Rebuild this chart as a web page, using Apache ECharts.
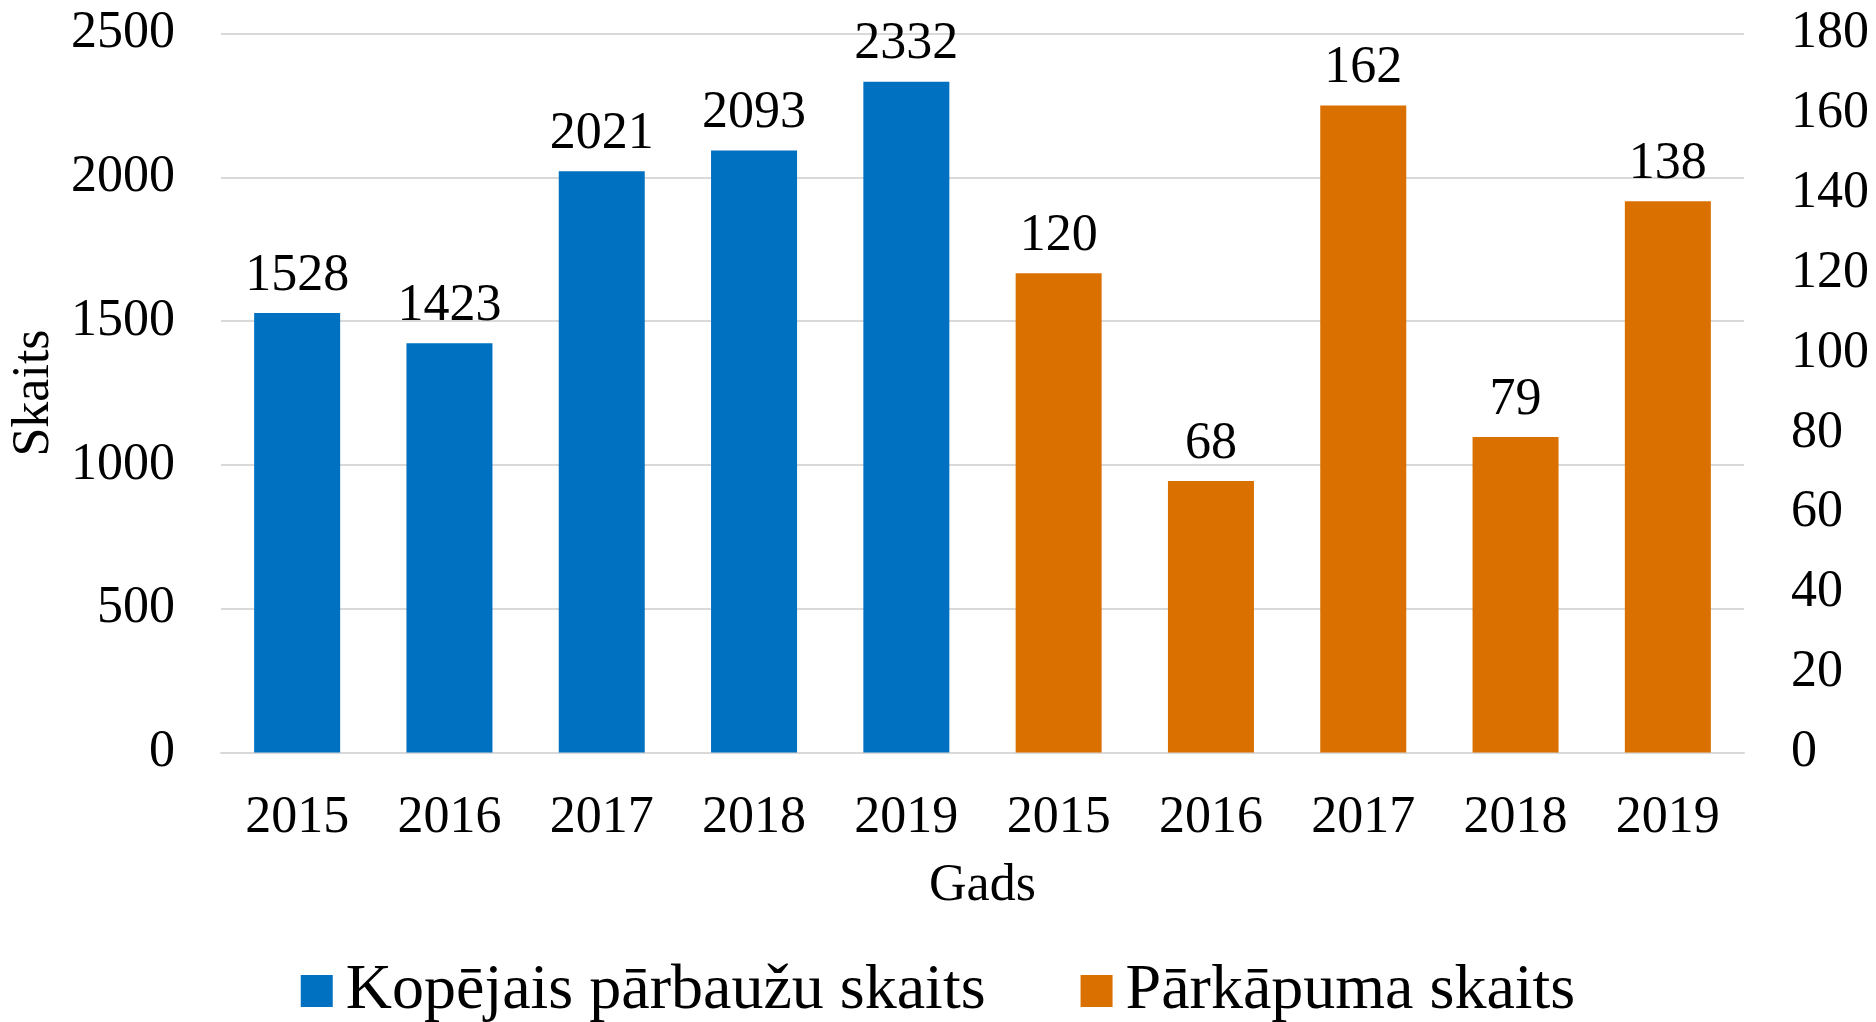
<!DOCTYPE html>
<html>
<head>
<meta charset="utf-8">
<script src="https://cdn.jsdelivr.net/npm/echarts@6/dist/echarts.min.js"></script>
<style>html,body{margin:0;padding:0;background:#fff}#c{width:1876px;height:1022px}</style>
</head>
<body>
<div id="c"></div>
<script>
const categories = ['2015','2016','2017','2018','2019','2015','2016','2017','2018','2019'];
const totalChecks = [1528, 1423, 2021, 2093, 2332, null, null, null, null, null];
const violations = [null, null, null, null, null, 120, 68, 162, 79, 138];
const seriesNames = ['Kopējais pārbaužu skaits', 'Pārkāpuma skaits'];
const leftAxisName = 'Skaits';
const xAxisName = 'Gads';

const FONT = '"Liberation Serif", "Times New Roman", serif';
const chart = echarts.init(document.getElementById('c'));
const labelStyle = {show: true, position: 'top', distance: 11, fontFamily: FONT, fontSize: 52, color: '#000'};
chart.setOption({
  animation: false,
  textStyle: {fontFamily: FONT},
  grid: {left: 221, right: 132, top: 33.5, bottom: 269.5, containLabel: false, outerBoundsMode: 'none'},
  legend: {
    top: 954, left: 'center',
    itemWidth: 32, itemHeight: 32, itemGap: 95,
    icon: 'rect',
    textStyle: {fontFamily: FONT, fontSize: 64, color: '#000', padding: [0,0,0,8]},
    data: seriesNames
  },
  xAxis: {
    type: 'category', data: categories,
    name: xAxisName, nameLocation: 'middle', nameGap: 108,
    nameTextStyle: {fontFamily: FONT, fontSize: 52, color: '#000'},
    axisLine: {lineStyle: {color: '#d9d9d9', width: 2}},
    axisTick: {show: false},
    axisLabel: {fontFamily: FONT, fontSize: 52, color: '#000', margin: 40}
  },
  yAxis: [{
    type: 'value', min: 0, max: 2500, interval: 500,
    name: leftAxisName, nameLocation: 'middle', nameGap: 160, nameRotate: 90,
    nameTextStyle: {fontFamily: FONT, fontSize: 52, color: '#000'},
    axisLine: {show: false}, axisTick: {show: false},
    axisLabel: {fontFamily: FONT, fontSize: 52, color: '#000', margin: 46, formatter: v => String(v)},
    splitLine: {lineStyle: {color: '#d9d9d9', width: 2}}
  }, {
    type: 'value', min: 0, max: 180, interval: 20,
    axisLine: {show: false}, axisTick: {show: false},
    axisLabel: {fontFamily: FONT, fontSize: 52, color: '#000', margin: 47, formatter: v => String(v)},
    splitLine: {show: false}
  }],
  series: [{
    name: seriesNames[0], type: 'bar', data: totalChecks, yAxisIndex: 0,
    barWidth: 86, barGap: '-100%',
    itemStyle: {color: '#0070C0'}, label: labelStyle
  }, {
    name: seriesNames[1], type: 'bar', data: violations, yAxisIndex: 1,
    barWidth: 86, barGap: '-100%',
    itemStyle: {color: '#D97000'}, label: labelStyle
  }]
});
</script>
</body>
</html>
